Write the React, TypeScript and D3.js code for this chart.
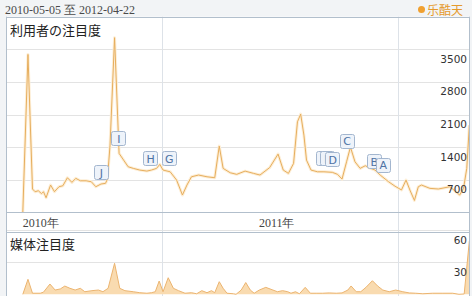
import React from 'react';
import * as d3 from 'd3';

const rangeText = '2010-05-05 至 2012-04-22';
const brandName = '乐酷天';
const panelTitles = ['利用者の注目度', '媒体注目度'];

const startDate = '2010-05-05';
const endDate = '2012-04-22';

const interestDates = [
  '2010-05-31', '2010-06-08', '2010-06-15', '2010-06-19', '2010-06-24', '2010-06-29', '2010-07-02', '2010-07-06',
  '2010-07-13', '2010-07-19', '2010-07-26', '2010-08-01', '2010-08-08', '2010-08-15', '2010-08-21', '2010-08-28',
  '2010-09-06', '2010-09-14', '2010-09-21', '2010-09-29', '2010-10-06', '2010-10-09', '2010-10-13', '2010-10-20',
  '2010-10-27', '2010-11-03', '2010-11-10', '2010-11-18', '2010-11-28', '2010-12-09', '2010-12-16', '2010-12-24',
  '2010-12-29', '2011-01-03', '2011-01-14', '2011-01-24', '2011-02-02', '2011-02-09', '2011-02-16', '2011-02-27',
  '2011-03-12', '2011-03-24', '2011-03-31', '2011-04-06', '2011-04-17', '2011-04-27', '2011-05-10', '2011-05-23',
  '2011-06-02', '2011-06-17', '2011-06-30', '2011-07-08', '2011-07-16', '2011-07-24', '2011-07-30', '2011-08-04',
  '2011-08-09', '2011-08-13', '2011-08-20', '2011-08-30', '2011-09-09', '2011-09-22', '2011-09-30', '2011-10-07',
  '2011-10-14', '2011-10-20', '2011-10-27', '2011-11-04', '2011-11-12', '2011-11-19', '2011-11-27', '2011-12-05',
  '2011-12-18', '2011-12-28', '2012-01-07', '2012-01-14', '2012-01-20', '2012-01-27', '2012-02-02', '2012-02-07',
  '2012-02-20', '2012-03-04', '2012-03-22', '2012-03-31', '2012-04-06', '2012-04-12', '2012-04-17', '2012-04-21',
];
const interestValues = [
  0, 3390, 500, 442, 463, 400, 442, 313,
  585, 442, 549, 570, 742, 643, 729, 677,
  677, 656, 549, 607, 622, 714, 1443, 3750,
  1265, 1121, 978, 943, 907, 885, 907, 943,
  1029, 907, 870, 692, 371, 585, 763, 800,
  763, 742, 1421, 943, 849, 815, 885, 836,
  800, 960, 1250, 907, 836, 1050, 1943, 2108,
  1657, 1121, 907, 870, 870, 858, 815, 714,
  1085, 1400, 1085, 943, 1000, 950, 907, 800,
  656, 560, 480, 692, 478, 255, 549, 585,
  514, 500, 549, 442, 371, 514, 943, 1870,
];

const mediaDates = [
  '2010-05-31', '2010-06-08', '2010-06-15', '2010-06-27', '2010-07-02', '2010-07-12', '2010-07-20', '2010-07-28',
  '2010-08-04', '2010-08-12', '2010-08-20', '2010-08-28', '2010-09-04', '2010-09-15', '2010-09-25', '2010-10-02',
  '2010-10-10', '2010-10-20', '2010-10-28', '2010-11-05', '2010-11-18', '2010-11-28', '2010-12-09', '2010-12-16',
  '2010-12-22', '2010-12-28', '2011-01-03', '2011-01-11', '2011-01-19', '2011-01-27', '2011-02-06', '2011-02-16',
  '2011-02-24', '2011-03-04', '2011-03-12', '2011-03-19', '2011-03-24', '2011-03-31', '2011-04-06', '2011-04-12',
  '2011-04-22', '2011-04-26', '2011-05-04', '2011-05-11', '2011-05-18', '2011-05-24', '2011-06-01', '2011-06-11',
  '2011-06-22', '2011-06-29', '2011-07-07', '2011-07-15', '2011-07-20', '2011-07-27', '2011-08-02', '2011-08-11',
  '2011-08-19', '2011-08-28', '2011-09-07', '2011-09-17', '2011-09-28', '2011-10-07', '2011-10-16', '2011-10-21',
  '2011-10-29', '2011-11-05', '2011-11-13', '2011-11-23', '2011-12-01', '2011-12-09', '2011-12-19', '2011-12-29',
  '2012-01-09', '2012-01-19', '2012-01-29', '2012-02-09', '2012-02-24', '2012-03-11', '2012-03-26', '2012-04-05',
  '2012-04-13', '2012-04-21',
];
const mediaValues = [
  0, 14, 1, 1, 2, 9.6, 4, 5,
  7.7, 5.6, 4, 5.6, 2.4, 3.4, 4, 2.4,
  5.6, 29, 5.6, 3.4, 2.4, 1.5, 1, 1.5,
  2.4, 12.4, 2.4, 15.5, 5.6, 3.4, 1, 1.5,
  0.5, 3.4, 1.5, 3.4, 1.5, 11.8, 5.6, 1,
  0.5, 0, 4, 11, 4, 1, 4, 6.5,
  4, 2.4, 3.4, 2.4, 1, 2.4, 0.5, 6.5,
  1, 1, 1, 1.3, 1, 1.3, 4, 7.8,
  2.4, 2.4, 6.5, 12.7, 7.8, 4, 2.4, 4,
  2.4, 1.3, 1, 0.5, 1, 1, 1, 0,
  0.3, 50,
];

const eventLetters = ['J', 'I', 'H', 'G', 'F', 'E', 'D', 'C', 'B', 'A'];
const eventDates = [
  '2010-09-29', '2010-10-26', '2010-12-14', '2011-01-12', '2011-09-08',
  '2011-09-14', '2011-09-22', '2011-10-14', '2011-11-25', '2011-12-09',
];
const eventValues = [714, 1443, 1014, 1014, 1014, 1014, 993, 1390, 950, 870];

const interestTicks = [700, 1400, 2100, 2800, 3500];
const mediaTicks = [30, 60];
const yearLineDates = ['2011-01-01', '2012-01-01'];
const yearLabelDates = ['2010-07-01', '2011-07-01'];
const yearLabels = ['2010年', '2011年'];

const W = 472;
const H = 296;

export default function App() {
  const parse = d3.timeParse('%Y-%m-%d');
  const L = 6;
  const R = 470;
  const p1Top = 16.7;
  const p1Bot = 212.3;
  const axBot = 231.7;

  const x = d3.scaleTime().domain([parse(startDate)!, parse(endDate)!]).range([L, R]);
  const y1 = d3.scaleLinear().domain([0, 4200]).range([p1Bot, p1Top]);
  const y2 = d3.scaleLinear().domain([0, 60]).range([294.3, 230.1]);

  const interest = interestDates.map((d, i) => ({ date: parse(d)!, v: interestValues[i] }));
  const media = mediaDates.map((d, i) => ({ date: parse(d)!, v: mediaValues[i] }));

  const line = d3
    .line<{ date: Date; v: number }>()
    .x((d) => x(d.date))
    .y((d) => y1(d.v));
  const area = d3
    .area<{ date: Date; v: number }>()
    .x((d) => x(d.date))
    .y0(y2(0))
    .y1((d) => y2(d.v));
  const mediaLine = d3
    .line<{ date: Date; v: number }>()
    .x((d) => x(d.date))
    .y((d) => y2(d.v));

  const crisp = (v: number) => Math.round(v) + 0.5;
  const gridColor = '#e3e3e3';
  const borderColor = '#b2bfcc';
  const axisFont = '"DejaVu Sans", Verdana, sans-serif';
  const serif = '"Liberation Serif", "Times New Roman", serif';
  const cjk = '"Noto Sans CJK JP", "Noto Sans CJK SC", sans-serif';

  return (
    <svg
      width={W}
      height={H}
      viewBox={`0 0 ${W} ${H}`}
      style={{ position: 'absolute', left: 0, top: 0, display: 'block' }}
    >
      <defs>
        <clipPath id="clip1">
          <rect x={L} y={p1Top} width={R - L} height={p1Bot - p1Top} />
        </clipPath>
        <clipPath id="clip2">
          <rect x={L} y={axBot} width={R - L} height={H - axBot} />
        </clipPath>
      </defs>
      <rect x={0} y={0} width={W} height={H} fill="#f2f4f6" />
      <rect x={L} y={p1Top} width={R - L} height={H - p1Top} fill="#ffffff" />

      {/* header */}
      <text x={5} y={14} fontFamily={serif} fontSize={12} fill="#4a4a4a">
        {rangeText}
      </text>
      <circle cx={421.5} cy={9.5} r={3.5} fill="#f0a030" />
      <text x={427} y={14.5} fontFamily={cjk} fontSize={12} fill="#e59a2c">
        {brandName}
      </text>

      {/* grid panel 1 */}
      {interestTicks.map((t) => (
        <line key={'g1' + t} x1={L} x2={R} y1={crisp(y1(t))} y2={crisp(y1(t))} stroke={gridColor} strokeWidth={1} />
      ))}
      {/* grid panel 2 */}
      {mediaTicks.map((t) => (
        <line key={'g2' + t} x1={L} x2={R} y1={crisp(y2(t))} y2={crisp(y2(t))} stroke={gridColor} strokeWidth={1} />
      ))}
      {/* vertical year lines */}
      {yearLineDates.map((d) => (
        <line
          key={'v' + d}
          x1={crisp(x(parse(d)!))}
          x2={crisp(x(parse(d)!))}
          y1={p1Top}
          y2={H}
          stroke="#dde2e8"
          strokeWidth={1}
        />
      ))}

      {/* panel 1 line */}
      <g clipPath="url(#clip1)">
        <path d={line(interest) || ''} fill="none" stroke="#fdeed6" strokeWidth={3} strokeLinejoin="round" />
        <path d={line(interest) || ''} fill="none" stroke="#e6ae5e" strokeWidth={1} strokeLinejoin="round" />
      </g>

      {/* panel 2 area */}
      <g clipPath="url(#clip2)">
        <path d={area(media) || ''} fill="#f9dbb0" />
        <path d={mediaLine(media) || ''} fill="none" stroke="#ebb470" strokeWidth={1} />
      </g>

      {/* borders */}
      <line x1={L} x2={R} y1={crisp(p1Top)} y2={crisp(p1Top)} stroke={borderColor} />
      <line x1={L} x2={R} y1={crisp(p1Bot)} y2={crisp(p1Bot)} stroke={borderColor} />
      <line x1={L} x2={R} y1={crisp(axBot)} y2={crisp(axBot)} stroke={borderColor} />
      <line x1={L + 0.5} x2={L + 0.5} y1={p1Top} y2={H} stroke={borderColor} />
      <line x1={R - 0.5} x2={R - 0.5} y1={p1Top} y2={H} stroke={borderColor} />

      {/* event markers */}
      {eventLetters.map((ltr, i) => {
        const cx = x(parse(eventDates[i])!);
        const by = y1(eventValues[i]);
        return (
          <g key={'ev' + ltr}>
            <rect x={Math.round(cx - 7) + 0.5} y={Math.round(by - 14) + 0.5} width={14} height={14} rx={2} fill="#eef3fa" stroke="#a3b6cf" />
            <text x={cx + 0.5} y={by - 2.5} textAnchor="middle" fontFamily={axisFont} fontSize={11} fill="#4d72a4">
              {ltr}
            </text>
          </g>
        );
      })}

      {/* titles */}
      <text x={10} y={34.5} fontFamily={cjk} fontSize={13} fill="#222">
        {panelTitles[0]}
      </text>
      <text x={10} y={249} fontFamily={cjk} fontSize={13} fill="#222">
        {panelTitles[1]}
      </text>

      {/* y labels */}
      {interestTicks.map((t) => (
        <text key={'l1' + t} x={467} y={y1(t) + 13.5} textAnchor="end" fontFamily={axisFont} fontSize={10.5} fill="#333">
          {t}
        </text>
      ))}
      {mediaTicks.map((t) => (
        <text key={'l2' + t} x={467} y={y2(t) + 13.5} textAnchor="end" fontFamily={axisFont} fontSize={10.5} fill="#333">
          {t}
        </text>
      ))}

      {/* x labels */}
      {yearLabels.map((lab, i) => (
        <text key={lab} x={x(parse(yearLabelDates[i])!) - 2} y={226.5} textAnchor="middle" fontFamily={serif} fontSize={12} fill="#444">
          {lab}
        </text>
      ))}
    </svg>
  );
}
